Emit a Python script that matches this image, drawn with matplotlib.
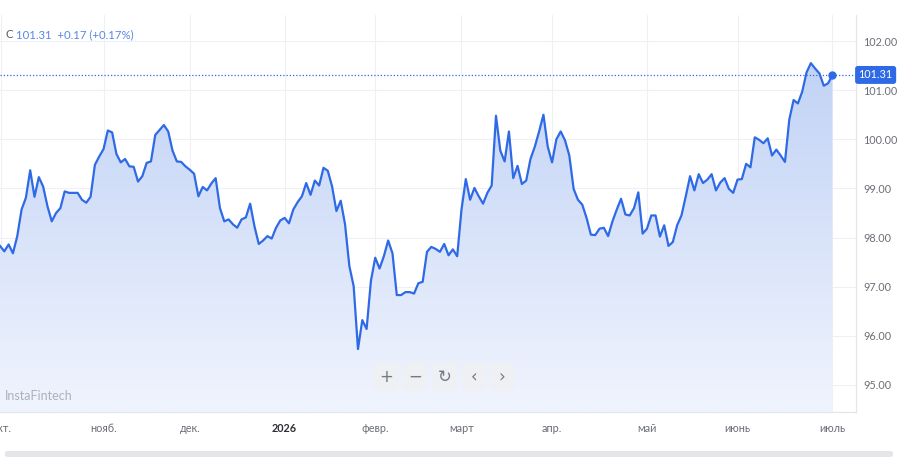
import numpy as np
import matplotlib
matplotlib.use("Agg")
import matplotlib.pyplot as plt
from matplotlib.colors import LinearSegmentedColormap
from matplotlib.patches import FancyBboxPatch

plt.rcParams['font.family'] = ['Lato', 'DejaVu Sans']

# daily close values (left to right)
prices = [
    97.83, 97.72, 97.86, 97.68, 98.03, 98.57, 98.81, 99.37, 98.83, 99.23,
    99.04, 98.64, 98.33, 98.50, 98.60, 98.94, 98.91, 98.91, 98.91, 98.77,
    98.71, 98.83, 99.48, 99.65, 99.80, 100.18, 100.14, 99.70, 99.53, 99.60,
    99.45, 99.44, 99.14, 99.25, 99.52, 99.55, 100.09, 100.19, 100.29, 100.16,
    99.77, 99.55, 99.54,
    99.45, 99.38, 99.30, 98.84, 99.03, 98.96, 99.10, 99.21, 98.60, 98.33,
    98.37, 98.27, 98.20, 98.37, 98.41, 98.69, 98.23, 97.87, 97.94, 98.03,
    97.98, 98.20, 98.35, 98.40, 98.29, 98.57, 98.72, 98.84, 99.11, 98.87,
    99.16, 99.06, 99.42, 99.36, 99.04, 98.54, 98.75,
    98.27, 97.42, 97.01, 95.73, 96.32, 96.14, 97.12, 97.59, 97.37, 97.62,
    97.94, 97.68, 96.83, 96.83, 96.89, 96.89, 96.86, 97.07, 97.10, 97.71,
    97.81, 97.77, 97.71, 97.87, 97.64, 97.76, 97.62, 98.57, 99.19, 98.77,
    99.01, 98.84, 98.69, 98.91, 99.06, 100.48, 99.77, 99.55, 100.16, 99.21,
    99.46,
    99.09, 99.16, 99.60, 99.85, 100.16, 100.50, 99.85, 99.53, 100.00, 100.16,
    99.98, 99.67, 98.99, 98.77, 98.67, 98.40, 98.06, 98.05, 98.18, 98.20,
    98.03, 98.33, 98.57, 98.79, 98.47, 98.45, 98.60, 98.92, 98.08, 98.18,
    98.45, 98.45, 98.02, 98.25, 97.83, 97.91, 98.25, 98.45, 98.84,
    99.25, 98.96, 99.29, 99.11, 99.18, 99.29, 98.96, 99.12, 99.21, 98.99,
    98.91, 99.18, 99.19, 99.50, 99.43, 100.04, 99.99, 99.92, 100.02, 99.67,
    99.79, 99.67, 99.54, 100.40, 100.80, 100.73, 100.97, 101.36, 101.55, 101.44,
    101.34, 101.09, 101.14, 101.31,
]

month_labels = ['окт.', 'нояб.', 'дек.', '2026', 'февр.', 'март', 'апр.', 'май', 'июнь', 'июль']
month_pos = [0.3, 24, 44, 66, 87, 107, 128, 150, 171, 193]
yticks = [95, 96, 97, 98, 99, 100, 101, 102]

last = 101.31
change = 0.17
change_pct = 0.17

blue = '#2f6ae6'
x = np.arange(len(prices))
ymin, ymax = 94.45, 102.53

fig = plt.figure(figsize=(9, 4.57), dpi=100)
ax = fig.add_axes([0, 1 - 412 / 457, 856 / 900, (412 - 15) / 457])

# gradient area under the line
fill = ax.fill_between(x, prices, ymin, color='none', lw=0)
grad = np.linspace(0, 1, 256).reshape(-1, 1)
cmap = LinearSegmentedColormap.from_list('g', ['#f0f4fd', '#c2d3f6'])
im = ax.imshow(grad, extent=[x[0], x[-1], ymin, max(prices)], origin='lower',
               aspect='auto', cmap=cmap, zorder=1, interpolation='bilinear')
im.set_clip_path(fill.get_paths()[0], ax.transData)

ax.plot(x, prices, color=blue, lw=1.6, zorder=3, solid_joinstyle='round')
ax.plot(x[-1], prices[-1], 'o', color=blue, ms=5, zorder=4)
ax.axhline(last, color=blue, lw=0.9, ls=(0, (1, 1.6)), zorder=2)

ax.set_xlim(0, 856 / 4.313)
ax.set_ylim(ymin, ymax)

ax.set_yticks(yticks)
ax.set_yticklabels([f'{v:.2f}' for v in yticks])
ax.yaxis.tick_right()
ax.set_xticks(month_pos)
ax.set_xticklabels(month_labels)
ax.tick_params(axis='both', length=0, labelsize=7.8, colors='#6b6f76')
ax.tick_params(axis='y', pad=5)
ax.tick_params(axis='x', pad=8)
for lab in ax.get_xticklabels():
    if lab.get_text() == '2026':
        lab.set_fontweight('bold')
        lab.set_color('#2b2e33')
for lab in ax.get_yticklabels():
    lab.set_horizontalalignment('left')

ax.grid(True, color='#eef0f3', lw=0.8, zorder=0)
ax.set_axisbelow(True)
for s in ['top', 'left']:
    ax.spines[s].set_visible(False)
for s in ['right', 'bottom']:
    ax.spines[s].set_color('#e3e6ea')
    ax.spines[s].set_linewidth(0.9)

# price tag on the axis
ax.text(1.003, last, f'{last:.2f}', transform=ax.get_yaxis_transform(),
        color='white', fontsize=7.8, va='center', ha='left',
        bbox=dict(boxstyle='round,pad=0.32,rounding_size=0.25', fc=blue, ec='none'))

# header
fig.text(5 / 900, 1 - 35 / 457, 'C', color='#555a61', fontsize=8.2, va='center')
fig.text(16 / 900, 1 - 35 / 457, f'{last:.2f}  +{change:.2f} (+{change_pct:.2f}%)',
         color='#5a86e8', fontsize=8.2, va='center')

# watermark
fig.text(5 / 900, 1 - 396 / 457, 'InstaFintech', color='#adb1b9', fontsize=9, va='center')

# navigation buttons
btn_x = [386, 415, 445, 474, 502]
btn_sym = ['+', '−', '↻', '‹', '›']
for bx, sym in zip(btn_x, btn_sym):
    fig.patches.append(FancyBboxPatch(((bx - 12) / 900, 1 - 391 / 457), 24 / 900, 28 / 457,
                                      boxstyle='round,pad=0,rounding_size=0.006',
                                      transform=fig.transFigure, fc='#eef0f4', ec='none', zorder=5))
    fig.text(bx / 900, 1 - 377 / 457, sym, color='#757981', fontsize=12,
             ha='center', va='center', zorder=6, family=['DejaVu Sans'])

# scrollbar at the bottom
fig.patches.append(FancyBboxPatch((5 / 900, 0), 888 / 900, 6 / 457,
                                  boxstyle='round,pad=0,rounding_size=0.004',
                                  transform=fig.transFigure, fc='#e4e5e8', ec='none'))

fig.savefig('out.png', dpi=100)
